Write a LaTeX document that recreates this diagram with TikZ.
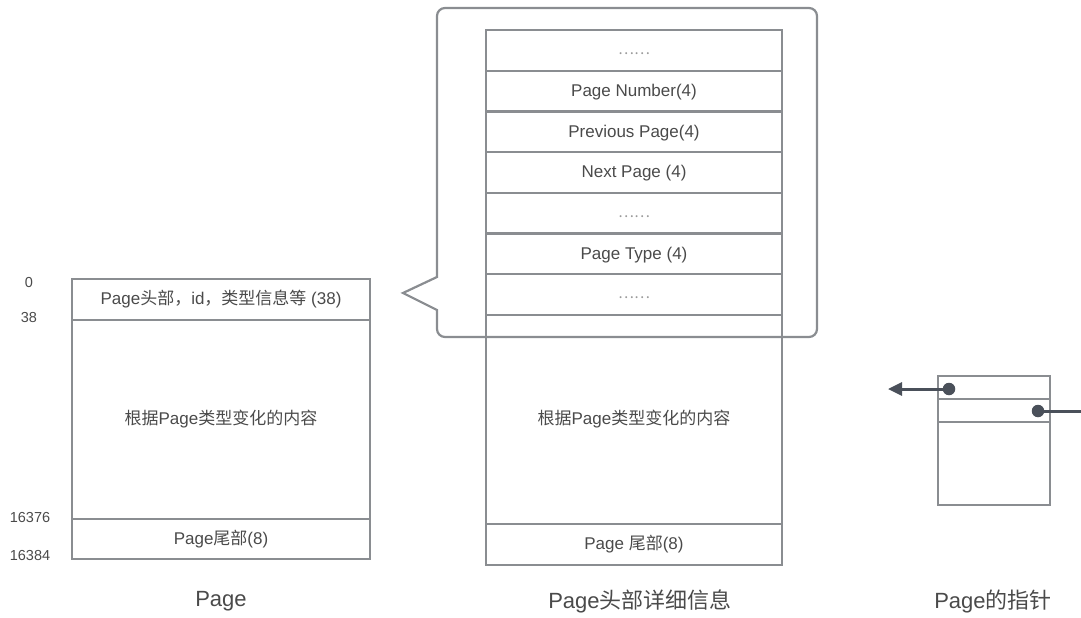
\documentclass[tikz,border=0pt]{standalone}
\usepackage{fontspec}
\setmainfont{Liberation Sans}
\newfontfamily\cjk{Noto Sans CJK SC}
\usetikzlibrary{arrows.meta}
\definecolor{boxgray}{HTML}{8A8D91}
\definecolor{txtgray}{HTML}{4A4A4A}
\definecolor{ptrcol}{HTML}{4A505A}
\definecolor{dotgray}{HTML}{9A9A9A}
\newcommand{\zh}[1]{{\cjk #1}}
\begin{document}
\begin{tikzpicture}[x=1pt,y=-1pt,
  cell/.style={draw=boxgray, line width=2.2pt, rectangle, inner sep=0pt,
    text=txtgray, font=\fontsize{17}{20}\selectfont,
    text height=12.5pt, text depth=2pt},
  lcell/.style={cell, minimum width=298pt},
  mcell/.style={cell, minimum width=296pt, minimum height=40.71pt},
  rcell/.style={cell, minimum width=112pt},
  offs/.style={text=txtgray, font=\fontsize{14.5}{16}\selectfont, inner sep=0pt},
  caption/.style={text=txtgray, font=\fontsize{22}{26}\selectfont, inner sep=0pt},
  ellip/.style={text=dotgray, font=\cjk\fontsize{15}{16}\selectfont, yshift=-3pt},
  ptdot/.style={circle, fill=ptrcol, inner sep=0pt, minimum size=12.5pt},
  ptrline/.style={draw=ptrcol, line width=3pt},
  balloon/.style={draw=boxgray, line width=2.2pt, line join=miter}
]
\useasboundingbox (0,0) rectangle (1081,618);

% ---------- left: Page ----------
\node[lcell, minimum height=41pt] (lh) at (221,299.5) {Page\zh{头部，}id\zh{，类型信息等} (38)};
\node[lcell, minimum height=199pt] (lc) at (221,419.5) {\zh{根据}Page\zh{类型变化的内容}};
\node[lcell, minimum height=40pt] (lf) at (221,539) {Page\zh{尾部}(8)};

\node[offs] (o0) at (29,283) {0};
\node[offs] (o1) at (29,318) {38};
\node[offs] (o2) at (30,518) {16376};
\node[offs] (o3) at (30,556) {16384};

% ---------- middle: header detail ----------
\node[mcell] (m1) at (634,50.36) {};
\node[ellip] (e1) at (m1.center) {……};
\node[mcell] (m2) at (634,91.07) {Page Number(4)};
\node[mcell] (m3) at (634,131.78) {Previous Page(4)};
\node[mcell] (m4) at (634,172.5) {Next Page (4)};
\node[mcell] (m5) at (634,213.2) {};
\node[ellip] (e5) at (m5.center) {……};
\node[mcell] (m6) at (634,253.9) {Page Type (4)};
\node[mcell] (m7) at (634,294.6) {};
\node[ellip] (e7) at (m7.center) {……};
\node[cell, minimum width=296pt, minimum height=209pt] (mc) at (634,419.5) {\zh{根据}Page\zh{类型变化的内容}};
\node[cell, minimum width=296pt, minimum height=41pt] (mf) at (634,544.5) {Page \zh{尾部}(8)};

% callout balloon
\draw[balloon] (437,277) -- (437,16)
  .. controls (437,11.58) and (440.58,8) .. (445,8) -- (809,8)
  .. controls (813.42,8) and (817,11.58) .. (817,16) -- (817,329)
  .. controls (817,333.42) and (813.42,337) .. (809,337) -- (445,337)
  .. controls (440.58,337) and (437,333.42) .. (437,329) -- (437,310)
  -- (403,293) -- cycle;

% ---------- right: page pointers ----------
\node[rcell, minimum height=23pt] (r1) at (994,387.5) {};
\node[rcell, minimum height=23pt] (r2) at (994,410.5) {};
\node[rcell, minimum height=83pt] (r3) at (994,463.5) {};
\node[ptdot] (d1) at (949,389) {};
\node[ptdot] (d2) at (1038,411) {};
\coordinate (a1) at (888,389);
\coordinate (a2) at (1081,411);
\draw[ptrline, -{Triangle[length=14pt,width=13pt]}] (d1.center) -- (a1);
\draw[ptrline] (d2.center) -- (a2);

% ---------- captions ----------
\node[caption] (c1) at (221,601) {Page};
\node[caption] (c2) at (640,601) {Page\zh{头部详细信息}};
\node[caption] (c3) at (993,601) {Page\zh{的指针}};
\end{tikzpicture}
\end{document}
